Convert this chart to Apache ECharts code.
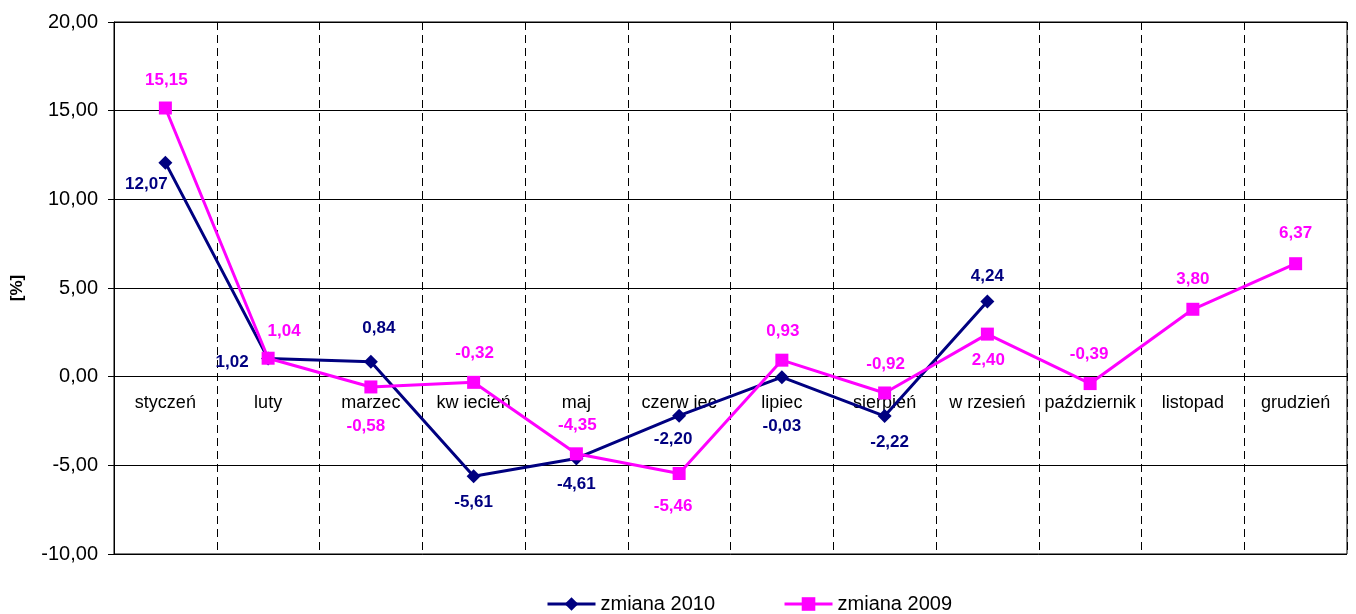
<!DOCTYPE html>
<html>
<head>
<meta charset="utf-8">
<script src="https://cdn.jsdelivr.net/npm/echarts@6/dist/echarts.min.js"></script>
<style>html,body{margin:0;padding:0;background:#fff}#c{width:1356px;height:614px}</style>
</head>
<body>
<div id="c"></div>
<script>
const categories = ['styczeń','luty','marzec','kw iecień','maj','czerw iec','lipiec','sierpień','w rzesień','październik','listopad','grudzień'];
const zmiana2010 = [12.07, 1.02, 0.84, -5.61, -4.61, -2.20, -0.03, -2.22, 4.24, null, null, null];
const zmiana2009 = [15.15, 1.04, -0.58, -0.32, -4.35, -5.46, 0.93, -0.92, 2.40, -0.39, 3.80, 6.37];
const yTicks = { min: -10, max: 20, interval: 5 };

const FONT = '"Liberation Sans", Arial, sans-serif';
const fmt = v => v.toFixed(2).replace('.', ',');

// label offsets (styling only)
const off2010 = [[-19,22],[-36,4],[8,-33],[0,26],[0,26],[-6,24],[0,49],[5,26],[0,-25]];
const off2009 = [[1,-28],[16,-27],[-5,39],[1,-29],[1,-28],[-6,33],[1,-29],[1,-29],[1,26],[-1,-29],[0,-30],[0,-30]];

function build(values, offs, color) {
  return values.map((v, i) => {
    if (v === null) return '-';
    return {
      value: v,
      label: { show: true, position: 'inside', offset: offs[i] || [0,-28],
        formatter: p => fmt(p.value), color: color, fontWeight: 'bold', fontSize: 17, fontFamily: FONT }
    };
  });
}

const GRID_TOP = 22, GRID_BOTTOM = 60, H = 614;
const plotH = H - GRID_TOP - GRID_BOTTOM;
const zeroOffset = -plotH * (0 - yTicks.min) / (yTicks.max - yTicks.min);

const chart = echarts.init(document.getElementById('c'), null, { renderer: 'canvas' });
chart.setOption({
  animation: false,
  backgroundColor: '#fff',
  textStyle: { fontFamily: FONT },
  grid: { left: 114, right: 9, top: GRID_TOP, bottom: GRID_BOTTOM, show: true, borderColor: '#000', borderWidth: 1, backgroundColor: 'transparent' },
  legend: {
    bottom: -5, left: 541, itemGap: 68, itemWidth: 48, itemHeight: 17,
    lineStyle: { width: 3 },
    textStyle: { fontSize: 20, color: '#000', fontFamily: FONT },
    data: ['zmiana 2010', 'zmiana 2009']
  },
  xAxis: {
    type: 'category', data: categories, boundaryGap: true,
    position: 'bottom', offset: zeroOffset,
    axisLine: { show: true, onZero: false, lineStyle: { color: '#000', width: 1 } },
    axisTick: { show: false },
    axisLabel: { color: '#000', fontSize: 18, margin: 17, interval: 0, fontFamily: FONT },
    splitLine: { show: true, interval: 0, lineStyle: { color: '#000', width: 1, type: [8, 5] } }
  },
  yAxis: {
    type: 'value', min: yTicks.min, max: yTicks.max, interval: yTicks.interval,
    name: '[%]', nameLocation: 'middle', nameGap: 88, nameRotate: 90,
    nameTextStyle: { fontSize: 17, fontWeight: 'bold', color: '#000', fontFamily: FONT },
    axisLine: { show: true, lineStyle: { color: '#000', width: 1 } },
    axisTick: { show: true, length: 6, lineStyle: { color: '#000' } },
    axisLabel: { color: '#000', fontSize: 20, margin: 16, formatter: v => fmt(v), fontFamily: FONT },
    splitLine: { show: true, lineStyle: { color: '#000', width: 1 } }
  },
  series: [
    {
      name: 'zmiana 2010', type: 'line', data: build(zmiana2010, off2010, '#000080'),
      color: '#000080', symbol: 'diamond', symbolSize: 14,
      lineStyle: { width: 3, color: '#000080' }, itemStyle: { color: '#000080' }, z: 3
    },
    {
      name: 'zmiana 2009', type: 'line', data: build(zmiana2009, off2009, '#FF00FF'),
      color: '#FF00FF', symbol: 'rect', symbolSize: 13,
      lineStyle: { width: 3, color: '#FF00FF' }, itemStyle: { color: '#FF00FF' }, z: 4
    }
  ]
});
</script>
</body>
</html>
